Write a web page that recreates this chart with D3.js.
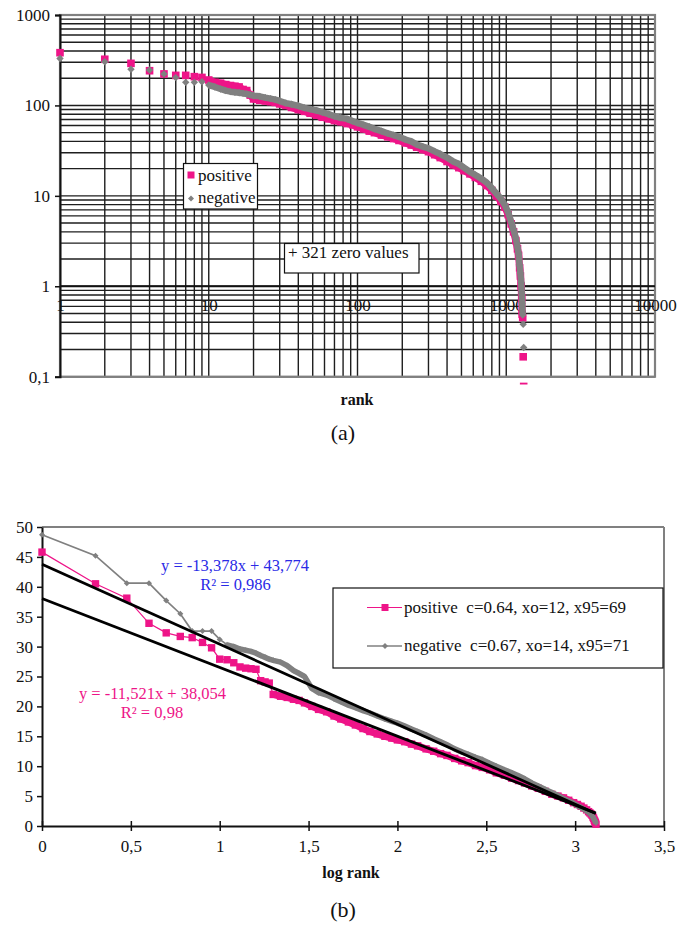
<!DOCTYPE html>
<html><head><meta charset="utf-8">
<script src="https://cdn.jsdelivr.net/npm/d3@7"></script>
<style>
body{margin:0;background:#fff}
svg{display:block}
text{font-family:"Liberation Serif","Times New Roman",serif;fill:#111}
</style>
</head><body>
<svg id="c" width="685" height="927"></svg>
<script>
// ---------- data ----------
const ranks = [1,2,3,4,5,6,7,8,9,10, 11,12,13,14,15,16,17,18,19,20, 22,24,26,28,30,33,36,40,44,48,
  53,58,64,70,77,85,93,100,110,120, 130,145,160,175,190,210,230,250,275,300,
  330,360,400,440,480,520,570,620,680,740, 800,860,920,980,1030,1080,1120,1160,1190,1210,
  1230,1245,1260,1270,1280,1290,1300,1310];

// (a) rank vs value, log-log
const positiveTop = [383,324,292,242,223,215,215,208,204,191, 180,176,170,166,163,160,150,146,130,118,
  114,112,110,108,104,100,95,90,86,82, 78,74,71,68,66,63,61,58,55,52,
  50,47,45,43,41,38.5,36.5,34.5,32.5,30.8, 28.5,26.5,24,22,20.5,19,17.5,16,14.5,13,
  11.5,10,8.7,7.5,6.2,4.9,4.0,3.2,2.6,2.2, 1.6,1.3,1.0,0.75,0.49,0.45,0.166,0.078];
const negativeTop = [330,304,251,246,223,203,180,180,183,168, 160,152,146,142,140,138,136,134,131,128,
  126,122,119,116,112,106,103,99,94,91, 88,84,80,76,73,71,67,64,61,58,
  55,52,49,47,45,42,40,37,35,33.5, 31,29,26.5,24,22.5,20.5,18.5,17,15.5,14,
  12.2,10.6,9.3,7.9,6.6,5.1,4.2,3.4,2.7,2.3, 1.7,1.4,1.1,0.85,0.65,0.48,0.38,0.21];

// (b) log rank vs transformed value
const positiveBot = [45.8,40.5,38.1,33.9,32.3,31.7,31.5,30.7,29.8,27.9, 27.8,27.3,26.6,26.4,26.3,26.2,24.3,24.1,23.9,22.0,
  21.7,21.5,21.2,21.0,20.6,20.0,19.5,19.1,18.4,17.9, 17.4,16.9,16.3,15.8,15.4,15.0,14.7,14.4,14.1,13.7,
  13.4,12.9,12.5,12.1,11.8,11.3,10.9,10.6,10.1,9.8, 9.4,8.9,8.5,8.0,7.6,7.2,6.7,6.3,5.8,5.3,
  5.0,4.7,4.3,3.9,3.6,3.3,3.0,2.7,2.4,2.2, 2.0,1.8,1.5,1.3,1.0,0.8,0.6,0.3];
const negativeBot = [48.7,45.2,40.6,40.6,37.7,35.5,32.6,32.6,32.6,31.2, 30.3,30.0,29.6,29.4,29.2,28.9,28.5,28.2,27.9,27.7,
  27.4,26.8,26.0,25.5,25.0,23.0,22.3,21.9,21.3,20.8, 20.2,19.8,19.3,18.9,18.4,17.9,17.5,17.2,16.7,16.2,
  15.8,15.2,14.6,14.1,13.6,12.9,12.4,12.0,11.5,11.1, 10.5,10.0,9.4,8.9,8.4,7.9,7.2,6.7,6.1,5.6,
  5.1,4.6,4.2,3.8,3.4,3.1,2.8,2.5,2.3,2.1, 1.9,1.7,1.5,1.3,1.1,0.9,0.7,0.5];

const trendSlopes = [-11.521, -13.378];
const trendIntercepts = [38.054, 43.774];
const trendRange = [0, 3.116];

const xTopTicks = [1,10,100,1000,10000];
const xTopLabels = ["1","10","100","1000","10000"];
const yTopTicks = [0.1,1,10,100,1000];
const yTopLabels = ["0,1","1","10","100","1000"];
const xBotTicks = [0,0.5,1,1.5,2,2.5,3,3.5];
const xBotLabels = ["0","0,5","1","1,5","2","2,5","3","3,5"];
const yBotTicks = [0,5,10,15,20,25,30,35,40,45,50];
const yBotLabels = ["0","5","10","15","20","25","30","35","40","45","50"];

const legendTop = ["positive","negative"];
const legendBot = ["positive  c=0.64, xo=12, x95=69","negative  c=0.67, xo=14, x95=71"];
const eqNeg = ["y = -13,378x + 43,774","R\u00B2 = 0,986"];
const eqPos = ["y = -11,521x + 38,054","R\u00B2 = 0,98"];

// ---------- drawing ----------
const PINK="#ee1488", GRAY="#808080", BLUE="#2a2ae6";
const svg = d3.select("#c");
const diamond = s => `M0,${-s}L${s},0L0,${s}L${-s},0Z`;

// ===== (a) =====
const T = {l:60, r:655, t:15, b:376.7};
const xT = d3.scaleLog().domain([1,10000]).range([T.l,T.r]);
const yT = d3.scaleLog().domain([0.1,1000]).range([T.b,T.t]);
const gT = svg.append("g");

gT.append("g").selectAll("line").data(xT.ticks()).join("line")
  .attr("x1",d=>xT(d)).attr("x2",d=>xT(d)).attr("y1",T.t).attr("y2",T.b)
  .attr("stroke","#1e1e1e").attr("stroke-width",1.4);
gT.append("g").selectAll("line").data(yT.ticks()).join("line")
  .attr("y1",d=>yT(d)).attr("y2",d=>yT(d)).attr("x1",T.l).attr("x2",T.r)
  .attr("stroke","#1e1e1e").attr("stroke-width",1.4);
gT.append("rect").attr("x",T.l).attr("y",T.t).attr("width",T.r-T.l).attr("height",T.b-T.t)
  .attr("fill","none").attr("stroke",GRAY).attr("stroke-width",2.2);
gT.append("line").attr("x1",T.l).attr("x2",T.r).attr("y1",yT(1)).attr("y2",yT(1))
  .attr("stroke","#111").attr("stroke-width",2);
const yAxT = gT.append("g").attr("transform",`translate(${T.l},0)`)
  .call(d3.axisLeft(yT).tickValues(yTopTicks).tickFormat((d,i)=>yTopLabels[i]).tickSize(5).tickPadding(5));
yAxT.select(".domain").attr("stroke","#111").attr("stroke-width",2);
yAxT.selectAll(".tick line").attr("stroke","#111").attr("stroke-width",1.5);
yAxT.selectAll("text").attr("font-size",17).attr("font-family","Liberation Serif").attr("fill","#111");
const xAxT = gT.append("g").attr("transform",`translate(0,${yT(1)})`)
  .call(d3.axisBottom(xT).tickValues(xTopTicks).tickFormat((d,i)=>xTopLabels[i]).tickSize(0).tickPadding(13));
xAxT.select(".domain").remove();
xAxT.selectAll("text").attr("font-size",17).attr("font-family","Liberation Serif").attr("fill","#111");

// series (a)
svg.append("defs").append("clipPath").attr("id","clipT").append("rect")
  .attr("x",0).attr("y",0).attr("width",685).attr("height",384.6);
const sT = gT.append("g").attr("clip-path","url(#clipT)");
const topPos = ranks.map((r,i)=>[r,positiveTop[i]]);
const topNeg = ranks.map((r,i)=>[r,negativeTop[i]]);
const lineT = d3.line().x(d=>xT(d[0])).y(d=>yT(d[1]));
const denseT = (arr) => arr.filter((d,i)=>i>=9 && i<arr.length-2);
sT.append("path").datum(denseT(topPos)).attr("d",lineT).attr("fill","none")
  .attr("stroke",PINK).attr("stroke-width",7.2).attr("stroke-linejoin","round");
sT.append("g").selectAll("rect").data(topPos).join("rect")
  .attr("x",d=>xT(d[0])-3.8).attr("y",d=>yT(d[1])-3.8).attr("width",7.6).attr("height",7.6)
  .attr("fill",PINK);
sT.append("path").datum(denseT(topNeg)).attr("d",lineT).attr("fill","none")
  .attr("stroke",GRAY).attr("stroke-width",6.5).attr("stroke-linejoin","round");
sT.append("g").selectAll("path").data(topNeg).join("path")
  .attr("transform",d=>`translate(${xT(d[0])},${yT(d[1])})`).attr("d",diamond(3.7))
  .attr("fill",GRAY);

// legend (a)
gT.append("rect").attr("x",183.5).attr("y",163.5).attr("width",74).attr("height",45.5)
  .attr("fill","#fff").attr("stroke","#111").attr("stroke-width",1.2);
gT.append("rect").attr("x",187.5).attr("y",171.5).attr("width",7).attr("height",7).attr("fill",PINK);
gT.append("path").attr("transform","translate(191,198.5)").attr("d",diamond(3)).attr("fill",GRAY);
gT.append("text").attr("x",198).attr("y",180.5).attr("font-size",17).text(legendTop[0]);
gT.append("text").attr("x",198).attr("y",202.5).attr("font-size",17).text(legendTop[1]);
gT.append("rect").attr("x",284.5).attr("y",243.5).attr("width",134.5).attr("height",29.5)
  .attr("fill","#fff").attr("stroke","#111").attr("stroke-width",1.2);
gT.append("text").attr("x",288).attr("y",258).attr("font-size",17).text("+ 321 zero values");
gT.append("text").attr("x",357).attr("y",404.5).attr("text-anchor","middle").attr("font-size",16)
  .attr("font-weight","bold").text("rank");
svg.append("text").attr("x",343).attr("y",440).attr("text-anchor","middle").attr("font-size",22)
  .attr("font-family","DejaVu Serif").text("(a)");

// ===== (b) =====
const B = {l:42, r:664, t:527, b:826};
const xB = d3.scaleLinear().domain([0,3.5]).range([B.l,B.r]);
const yB = d3.scaleLinear().domain([0,50]).range([B.b,B.t]);
const gB = svg.append("g");
gB.append("line").attr("x1",B.l).attr("x2",B.r).attr("y1",B.t).attr("y2",B.t).attr("stroke",GRAY).attr("stroke-width",2);
gB.append("line").attr("x1",B.r).attr("x2",B.r).attr("y1",B.t).attr("y2",B.b).attr("stroke",GRAY).attr("stroke-width",2);

const yAxB = gB.append("g").attr("transform",`translate(${B.l},0)`)
  .call(d3.axisLeft(yB).tickValues(yBotTicks).tickFormat((d,i)=>yBotLabels[i]).tickSize(5).tickSizeOuter(0).tickPadding(4));
yAxB.select(".domain").attr("stroke","#111").attr("stroke-width",2);
yAxB.selectAll(".tick line").attr("stroke","#111").attr("stroke-width",1.5);
yAxB.selectAll("text").attr("font-size",17).attr("font-family","Liberation Serif").attr("fill","#111");

const xAxB = gB.append("g").attr("transform",`translate(0,${B.b})`)
  .call(d3.axisBottom(xB).tickValues(xBotTicks).tickFormat((d,i)=>xBotLabels[i]).tickSize(5).tickSizeOuter(0).tickPadding(9));
xAxB.select(".domain").attr("stroke","#111").attr("stroke-width",2);
xAxB.selectAll(".tick line").attr("y1",-5).attr("y2",5).attr("stroke","#111").attr("stroke-width",1.5);
xAxB.selectAll("text").attr("font-size",17).attr("font-family","Liberation Serif").attr("fill","#111");

const botPos = ranks.map((r,i)=>[Math.log10(r),positiveBot[i]]);
const botNeg = ranks.map((r,i)=>[Math.log10(r),negativeBot[i]]);
const line = d3.line().x(d=>xB(d[0])).y(d=>yB(d[1]));
gB.append("path").datum(botPos).attr("d",line).attr("fill","none").attr("stroke",PINK).attr("stroke-width",1.2);
gB.append("path").datum(botPos.filter((d,i)=>i>=19)).attr("d",line).attr("fill","none")
  .attr("stroke",PINK).attr("stroke-width",7).attr("stroke-linejoin","round");
gB.append("g").selectAll("rect").data(botPos).join("rect")
  .attr("x",d=>xB(d[0])-3.7).attr("y",d=>yB(d[1])-3.7).attr("width",7.4).attr("height",7.4).attr("fill",PINK);
gB.append("path").datum(botNeg).attr("d",line).attr("fill","none").attr("stroke",GRAY).attr("stroke-width",1.7);
gB.append("path").datum(botNeg.filter((d,i)=>i>=10)).attr("d",line).attr("fill","none")
  .attr("stroke",GRAY).attr("stroke-width",5.5).attr("stroke-linejoin","round");
gB.append("g").selectAll("path").data(botNeg).join("path")
  .attr("transform",d=>`translate(${xB(d[0])},${yB(d[1])})`).attr("d",diamond(3)).attr("fill",GRAY);

gB.append("g").selectAll("line").data(trendSlopes).join("line")
  .attr("x1",xB(trendRange[0])).attr("x2",xB(trendRange[1]))
  .attr("y1",(s,i)=>yB(trendIntercepts[i]+s*trendRange[0]))
  .attr("y2",(s,i)=>yB(trendIntercepts[i]+s*trendRange[1]))
  .attr("stroke","#000").attr("stroke-width",2.8);

gB.append("text").attr("x",235).attr("y",571).attr("text-anchor","middle").attr("font-size",16.5).style("fill",BLUE).text(eqNeg[0]);
gB.append("text").attr("x",235.5).attr("y",590).attr("text-anchor","middle").attr("font-size",16.5).style("fill",BLUE).text(eqNeg[1]);
gB.append("text").attr("x",152.5).attr("y",699).attr("text-anchor","middle").attr("font-size",16.5).style("fill",PINK).text(eqPos[0]);
gB.append("text").attr("x",152).attr("y",718).attr("text-anchor","middle").attr("font-size",16.5).style("fill",PINK).text(eqPos[1]);

gB.append("rect").attr("x",333).attr("y",588).attr("width",330).attr("height",80)
  .attr("fill","#fff").attr("stroke","#111").attr("stroke-width",1.2);
gB.append("line").attr("x1",367).attr("x2",402).attr("y1",607.5).attr("y2",607.5).attr("stroke",PINK).attr("stroke-width",1.2);
gB.append("rect").attr("x",381.5).attr("y",604).attr("width",7).attr("height",7).attr("fill",PINK);
gB.append("line").attr("x1",367).attr("x2",402).attr("y1",646).attr("y2",646).attr("stroke",GRAY).attr("stroke-width",1.7);
gB.append("path").attr("transform","translate(385,646)").attr("d",diamond(3)).attr("fill",GRAY);
gB.append("text").attr("x",404).attr("y",612.5).attr("font-size",17).style("white-space","pre").text(legendBot[0]);
gB.append("text").attr("x",404).attr("y",651).attr("font-size",17).style("white-space","pre").text(legendBot[1]);

gB.append("text").attr("x",351).attr("y",878).attr("text-anchor","middle").attr("font-size",16)
  .attr("font-weight","bold").text("log rank");
svg.append("text").attr("x",343).attr("y",917).attr("text-anchor","middle").attr("font-size",22)
  .attr("font-family","DejaVu Serif").text("(b)");
</script>
</body></html>
